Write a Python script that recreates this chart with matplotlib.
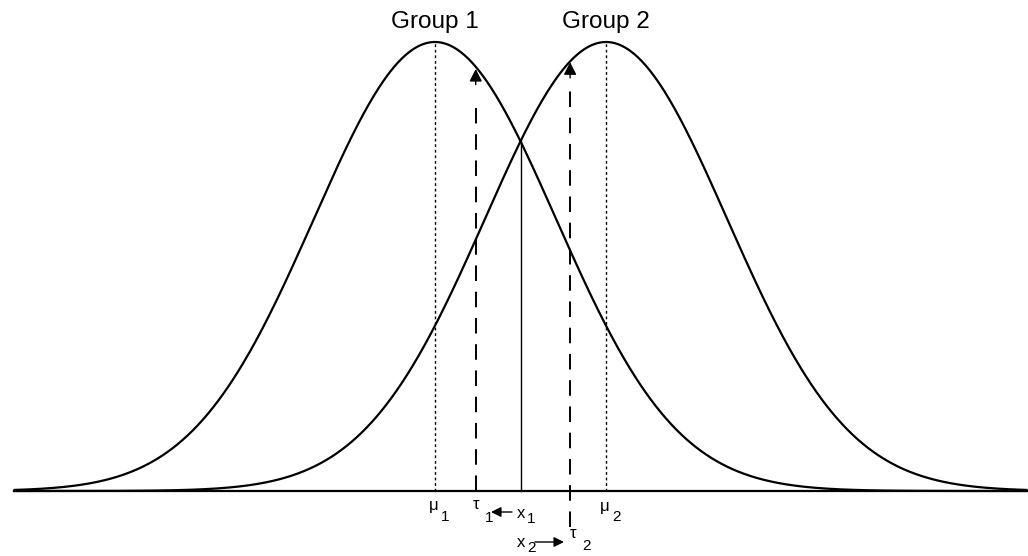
import numpy as np
import matplotlib
matplotlib.use("Agg")
import matplotlib.pyplot as plt

# ---- data (standardised units) ----
group_labels = ["Group 1", "Group 2"]
means = [-0.707, 0.707]
sigma = 1.0
tau = [-0.37, 0.41]          # decision thresholds
x_cross = 0.0                # intersection point
x_range = [-4.19, 4.19]

plt.rcParams['font.family'] = ['Liberation Sans', 'DejaVu Sans']

fig = plt.figure(figsize=(10.28, 5.56), dpi=100)
ax = fig.add_axes([0, 0, 1, 1])
# pixel mapping: x_px = 520.5 + 121*x ; y_px = 491 - 449*y
ax.set_xlim((0 - 520.5) / 121, (1028 - 520.5) / 121)
ax.set_ylim((491 - 556) / 449, (491 - 0) / 449)
ax.axis('off')


def P(px, py):
    return (px - 520.5) / 121, (491 - py) / 449


def dens(x, m):
    return np.exp(-0.5 * ((x - m) / sigma) ** 2)


xs = np.linspace(x_range[0], x_range[1], 800)
for m in means:
    ax.plot(xs, dens(xs, m), color='black', lw=1.6, solid_capstyle='butt')

# baseline
ax.plot([x_range[0], x_range[1] + 0.1], [0, 0], color='black', lw=1.6)

# mean dotted lines
for m in means:
    ax.plot([m, m], [0, 1], color='black', lw=1, linestyle=(0, (2, 2)))

# intersection vertical line
ax.plot([x_cross, x_cross], [0, dens(x_cross, means[0])], color='black', lw=1)

# tau dashed arrows
tau_bottom = [0.0, -0.08]
tau_tip = [0.94, 0.955]
for t, b, tip in zip(tau, tau_bottom, tau_tip):
    ax.plot([t, t], [b, tip - 0.065], color='black', lw=1.4, linestyle=(0, (8, 5.5)))
    ax.annotate('', xy=(t, tip), xytext=(t, tip - 0.035),
                arrowprops=dict(arrowstyle='-|>,head_length=0.75,head_width=0.38',
                                color='black', lw=1, shrinkA=0, shrinkB=0))

# group titles
for lab, m in zip(group_labels, means):
    ax.text(m, P(0, 28)[1], lab, ha='center', va='baseline', fontsize=17.5)

fs_main = 12
fs_sub = 11


def lab(px, py, main, sub, sdx, sdy, ha='center'):
    ax.text(*P(px, py), main, ha=ha, va='baseline', fontsize=fs_main)
    ax.text(*P(px + sdx, py + sdy), sub, ha='left', va='baseline', fontsize=fs_sub)


# row 1
lab(434, 510, 'μ', '1', 7, 11)
lab(476, 509, 'τ', '1', 9, 13)
lab(517, 518, 'x', '1', 10, 5, ha='left')
lab(605, 511, 'μ', '2', 7, 10)
# row 2
lab(517, 547, 'x', '2', 10, 5, ha='left')
lab(573, 538, 'τ', '2', 9, 12)

# small arrows
ax.annotate('', xy=P(491, 512), xytext=P(512, 512),
            arrowprops=dict(arrowstyle='-|>,head_length=0.6,head_width=0.3',
                            color='black', lw=1, shrinkA=0, shrinkB=0))
ax.annotate('', xy=P(564, 542), xytext=P(535, 542),
            arrowprops=dict(arrowstyle='-|>,head_length=0.6,head_width=0.3',
                            color='black', lw=1, shrinkA=0, shrinkB=0))

fig.savefig('out.png', dpi=100)
